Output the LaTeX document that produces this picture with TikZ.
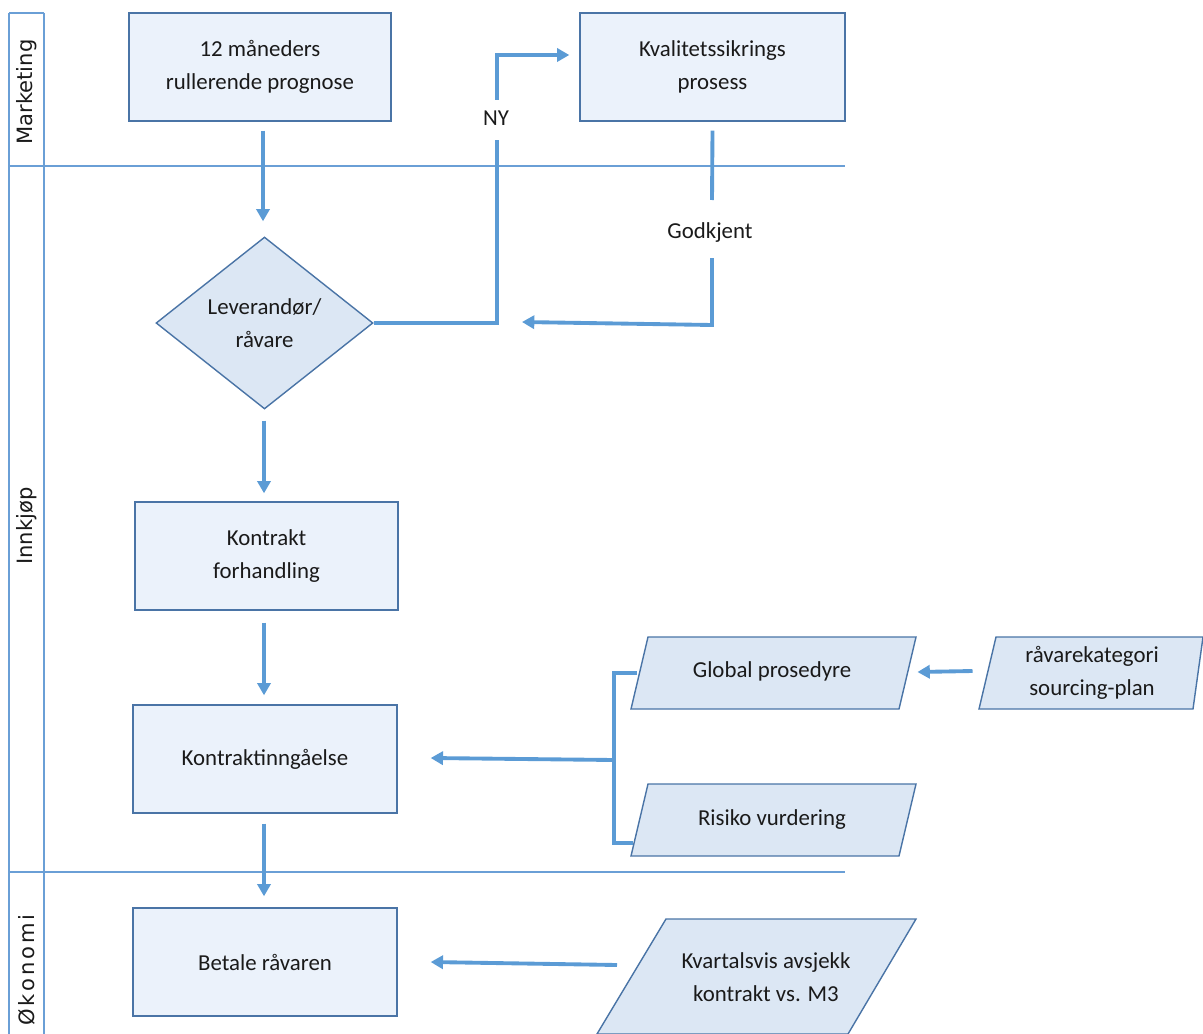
\documentclass[tikz,border=0pt]{standalone}
\usepackage{fontspec}
\setmainfont{Carlito}
\newfontfamily\lanefont{DejaVu Sans}
\usetikzlibrary{shapes.geometric,arrows.meta,calc}
\definecolor{laneblue}{HTML}{6A9FD6}
\definecolor{connblue}{HTML}{5B9BD5}
\definecolor{bord}{HTML}{4A74A6}
\definecolor{fillA}{HTML}{EBF2FB}
\definecolor{fillB}{HTML}{DCE7F4}
\definecolor{txt}{HTML}{1A1A1A}
\begin{document}
\begin{tikzpicture}[x=0.02cm,y=-0.02cm,
  font=\fontsize{13}{18.6}\selectfont, text=txt,
  laneline/.style={draw=laneblue, line width=0.8pt},
  lanelabel/.style={rotate=90, font=\lanefont\fontsize{12}{14}\selectfont, text=txt},
  procbox/.style={draw=bord, fill=fillA, line width=0.8pt, minimum height=2.16cm, align=center, inner sep=0pt},
  decision/.style={diamond, draw=bord, fill=fillB, line width=0.8pt, minimum width=4.34cm, minimum height=3.44cm, aspect=1.26, align=center, inner sep=0pt},
  datashape/.style={draw=bord, fill=fillB, line width=0.8pt},
  conn/.style={draw=connblue, line width=2.2pt},
  arr/.style={conn, -{Triangle[length=7pt,width=7.5pt]}},
  lbl/.style={inner sep=0pt, align=center}
]
\useasboundingbox (0,0) rectangle (1203,1034);

% lanes
\draw[laneline] (9,13) -- (44,13);
\draw[laneline] (9,13) -- (9,1034);
\draw[laneline] (44,13) -- (44,1034);
\draw[laneline] (9,166) -- (845,166);
\draw[laneline] (9,872) -- (845,872);
\node[lanelabel] (lmark) at (27,92) {Marketing};
\node[lanelabel] (linn) at (27,526) {Innkjøp};
\node[lanelabel, font=\lanefont\fontsize{12}{14}\selectfont\addfontfeature{LetterSpace=14}] (lok) at (27,970) {Økonomi};

% process boxes
\node[procbox, minimum width=5.24cm] (prog) at (260,67) {12 måneders\\rullerende prognose};
\node[procbox, minimum width=5.30cm] (qa) at (712.5,67) {Kvalitetssikrings\\prosess};
\node[decision] (lev) at (264.5,323) {Leverandør/\\råvare};
\node[procbox, minimum width=5.26cm] (kf) at (266.5,556) {Kontrakt\\forhandling};
\node[procbox, minimum width=5.28cm] (ki) at (265,759) {Kontraktinngåelse};
\node[procbox, minimum width=5.28cm] (bet) at (265,962) {Betale råvaren};

% data shapes (parallelograms)
\draw[datashape] (648,637) -- (916,637) -- (899,709) -- (631,709) -- cycle;
\node[lbl] (gp) at (772,671) {Global prosedyre};
\coordinate (gpW) at (639.5,673);
\coordinate (gpE) at (907.5,673);

\draw[datashape] (648,784) -- (916,784) -- (899,856) -- (631,856) -- cycle;
\node[lbl] (rv) at (772,820) {Risiko vurdering};

\draw[datashape] (996,637) -- (1203,637) -- (1193,709) -- (979,709) -- cycle;
\node[lbl] (rk) at (1092,673) {råvarekategori\\sourcing-plan};
\coordinate (rkW) at (987.5,673);

\draw[datashape] (666,919) -- (916,919) -- (848,1034) -- (597,1034) -- cycle;
\node[lbl] (kv) at (766,977) {Kvartalsvis avsjekk\\kontrakt vs. M3};
\coordinate (kvW) at (638,965);

% labels on connectors
\node[lbl] (ny) at (496,118) {NY};
\node[lbl] (gk) at (710,233) {Godkjent};

% connectors
\draw[arr] ($(prog.south)+(3,9)$) -- ($(lev.north)+(-1.5,-15)$);
\draw[conn] (lev.east) -- (497,323) -- ($(ny)+(1,22)$);
\coordinate (qaIn) at ($(qa.west)+(-10,-12)$);
\draw[arr] ($(ny)+(1,-18)$) -- (497,55) -- (qaIn);
\draw[conn] ($(qa.south)+(0,9)$) -- ($(gk)+(2,-33)$);
\draw[arr] ($(gk)+(2,25)$) -- (712,325) -- (522,322);

\draw[arr] ($(lev.south)+(-0.5,11)$) -- ($(kf.north)+(-2.5,-8)$);
\draw[arr] ($(kf.south)+(-2.5,12)$) -- ($(ki.north)+(-1,-9)$);
\draw[arr] ($(ki.south)+(-1,10)$) -- ($(bet.north)+(-1,-11)$);

\draw[conn] ($(gpW)+(-3,0)$) -- (614,673) -- (614,843) -- (633,843);
\draw[arr] (614,760) -- ($(ki.east)+(33,-1)$);
\draw[arr] ($(rkW)+(-15,-2)$) -- ($(gpE)+(10,-1)$);
\draw[arr] ($(kvW)+(-21,0)$) -- ($(bet.east)+(33,0)$);
\end{tikzpicture}
\end{document}
